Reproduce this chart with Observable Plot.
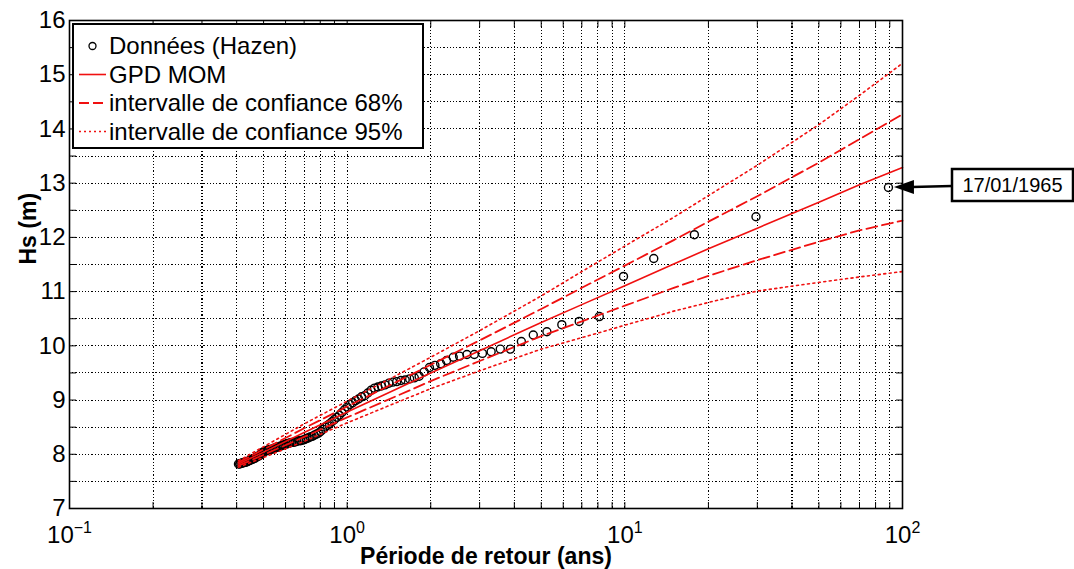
<!DOCTYPE html>
<html>
<head>
<meta charset="utf-8">
<script src="https://cdn.jsdelivr.net/npm/d3@7"></script>
<script src="https://cdn.jsdelivr.net/npm/@observablehq/plot@0.6"></script>
<style>
  html, body { margin: 0; padding: 0; background: #fff; }
  svg { display: block; }
</style>
</head>
<body>
<div id="chart"></div>
<script>
// ---- Observed data (Hazen plotting positions): return period (years), Hs (m)
const returnPeriod = [
  89.0, 29.67, 17.80, 12.71, 9.89, 8.09, 6.85, 5.93, 5.24, 4.68,
  4.24, 3.87, 3.56, 3.30, 3.07, 2.87, 2.70, 2.54, 2.41, 2.28,
  2.171, 2.070, 1.978, 1.894, 1.816, 1.745, 1.679, 1.618, 1.561, 1.508,
  1.459, 1.413, 1.369, 1.328, 1.290, 1.254, 1.219, 1.187, 1.156, 1.127,
  1.099, 1.072, 1.047, 1.023, 1.000, 0.978, 0.957, 0.937, 0.918, 0.899,
  0.881, 0.864, 0.848, 0.832, 0.817, 0.802, 0.788, 0.774, 0.761, 0.748,
  0.736, 0.724, 0.712, 0.701, 0.690, 0.679, 0.669, 0.659, 0.650, 0.640,
  0.631, 0.622, 0.614, 0.605, 0.597, 0.589, 0.582, 0.574, 0.567, 0.560,
  0.553, 0.546, 0.539, 0.533, 0.527, 0.520, 0.514, 0.509, 0.503, 0.497,
  0.492, 0.486, 0.481, 0.476, 0.471, 0.466, 0.461, 0.456, 0.452, 0.447,
  0.443, 0.438, 0.434, 0.430, 0.426, 0.422, 0.418, 0.414, 0.410, 0.406
];
const hsObserved = [
  12.92, 12.38, 12.05, 11.61, 11.28, 10.54, 10.45, 10.39, 10.26, 10.20,
  10.08, 9.94, 9.94, 9.89, 9.86, 9.84, 9.84, 9.81, 9.79, 9.73,
  9.67, 9.64, 9.60, 9.52, 9.44, 9.41, 9.39, 9.37, 9.36, 9.34,
  9.33, 9.31, 9.28, 9.26, 9.24, 9.22, 9.18, 9.13, 9.08, 9.06,
  9.02, 8.99, 8.95, 8.92, 8.87, 8.82, 8.77, 8.72, 8.68, 8.64,
  8.60, 8.56, 8.53, 8.50, 8.46, 8.42, 8.39, 8.37, 8.35, 8.33,
  8.32, 8.30, 8.29, 8.27, 8.26, 8.25, 8.25, 8.24, 8.23, 8.22,
  8.22, 8.21, 8.20, 8.19, 8.18, 8.17, 8.16, 8.15, 8.14, 8.13,
  8.12, 8.11, 8.10, 8.09, 8.09, 8.08, 8.07, 8.06, 8.05, 8.04,
  8.01, 7.99, 7.97, 7.96, 7.95, 7.93, 7.92, 7.91, 7.90, 7.89,
  7.88, 7.87, 7.86, 7.85, 7.85, 7.84, 7.84, 7.83, 7.82, 7.82
];

// ---- GPD MOM fit and confidence intervals
const fitPeriod = [0.406, 0.5, 0.7, 1, 1.5, 2, 3, 5, 7, 10, 15, 20, 30, 50, 70, 100];
const fitGPD    = [7.82, 8.04, 8.40, 8.78, 9.20, 9.50, 9.91, 10.43, 10.76, 11.11, 11.51, 11.79, 12.17, 12.65, 12.97, 13.29];
const lower68   = [7.79, 7.99, 8.32, 8.68, 9.07, 9.35, 9.72, 10.18, 10.45, 10.74, 11.07, 11.29, 11.58, 11.92, 12.13, 12.31];
const upper68   = [7.85, 8.09, 8.48, 8.88, 9.33, 9.65, 10.10, 10.68, 11.07, 11.48, 11.95, 12.29, 12.76, 13.38, 13.81, 14.27];
const lower95   = [7.76, 7.94, 8.24, 8.58, 8.95, 9.21, 9.54, 9.94, 10.15, 10.38, 10.64, 10.80, 11.01, 11.17, 11.27, 11.37];
const upper95   = [7.88, 8.14, 8.56, 8.98, 9.45, 9.79, 10.28, 10.92, 11.37, 11.84, 12.37, 12.77, 13.33, 14.08, 14.62, 15.21];

// ---- Axes / labels
const yTicks = [7, 8, 9, 10, 11, 12, 13, 14, 15, 16];
const yMinorTicks = [7, 7.5, 8, 8.5, 9, 9.5, 10, 10.5, 11, 11.5, 12, 12.5, 13, 13.5, 14, 14.5, 15, 15.5, 16];
const xDecades = [0.1, 1, 10, 100];
const xMultipliers = [1, 2, 3, 4, 5, 6, 7, 8, 9];
const xLabel = "Période de retour (ans)";
const yLabel = "Hs (m)";
const legendLabels = ["Données (Hazen)", "GPD MOM", "intervalle de confiance 68%", "intervalle de confiance 95%"];
const annotationText = "17/01/1965";

const xMinorTicks = xDecades.slice(0, -1).flatMap(d => xMultipliers.map(m => +(d * m).toPrecision(3))).concat([100]);
const xGrid = xMinorTicks.filter(v => v > 0.1 && v < 100);
const yGrid = yMinorTicks.filter(v => v > 7 && v < 16);

const points = returnPeriod.map((t, i) => ({t, hs: hsObserved[i]}));
const fit = fitPeriod.map((t, i) => ({t, gpd: fitGPD[i], lo68: lower68[i], hi68: upper68[i], lo95: lower95[i], hi95: upper95[i]}));

const RED = "#f01010";
const gridStyle = {stroke: "#000", strokeWidth: 1.1, strokeDasharray: "1.2,2", strokeOpacity: 1};
const emptyFmt = () => "";

const plot = Plot.plot({
  width: 1074,
  height: 569,
  marginLeft: 69,
  marginRight: 172,
  marginTop: 20,
  marginBottom: 61,
  style: {fontFamily: "'Liberation Sans', Arial, sans-serif", background: "#fff", color: "#000"},
  x: {type: "log", domain: [0.1, 100]},
  y: {domain: [7, 16]},
  marks: [
    Plot.ruleX(xGrid, gridStyle),
    Plot.ruleY(yGrid, gridStyle),
    Plot.dot(points, {x: "t", y: "hs", r: 4, stroke: "#000", strokeWidth: 1.4, fill: "none"}),
    Plot.line(fit, {x: "t", y: "lo95", stroke: RED, strokeWidth: 1.6, strokeDasharray: "2,3.5"}),
    Plot.line(fit, {x: "t", y: "hi95", stroke: RED, strokeWidth: 1.6, strokeDasharray: "2,3.5"}),
    Plot.line(fit, {x: "t", y: "lo68", stroke: RED, strokeWidth: 1.8, strokeDasharray: "11,5"}),
    Plot.line(fit, {x: "t", y: "hi68", stroke: RED, strokeWidth: 1.8, strokeDasharray: "11,5"}),
    Plot.line(fit, {x: "t", y: "gpd", stroke: RED, strokeWidth: 1.6}),
    Plot.axisX({anchor: "bottom", ticks: xMinorTicks, tickSize: -6, tickFormat: emptyFmt, label: null}),
    Plot.axisX({anchor: "top", ticks: xMinorTicks, tickSize: -6, tickFormat: emptyFmt, label: null}),
    Plot.axisY({anchor: "left", ticks: yMinorTicks, tickSize: -7, tickFormat: emptyFmt, label: null}),
    Plot.axisY({anchor: "right", ticks: yMinorTicks, tickSize: -7, tickFormat: emptyFmt, label: null}),
    Plot.axisX({anchor: "bottom", ticks: xDecades, tickSize: 0, tickPadding: 17, fontSize: 24,
      tickFormat: d => String(Math.round(Math.log10(d))), label: null}),
    Plot.axisY({anchor: "left", ticks: yTicks, tickSize: 0, tickPadding: 4, fontSize: 24,
      tickFormat: d => String(d), label: null}),
    Plot.frame({stroke: "#000", strokeWidth: 1.6}),
    Plot.text([xLabel], {frameAnchor: "bottom", dy: 55, text: d => d, fontSize: 23, fontWeight: "bold", lineAnchor: "bottom"}),
    Plot.text([yLabel], {frameAnchor: "left", dx: -41, rotate: -90, text: d => d, fontSize: 23, fontWeight: "bold"})
  ]
});
document.getElementById("chart").appendChild(plot);

const svg = d3.select(plot);
svg.style("overflow", "visible");

// crisp dotted grid like the original
svg.selectAll('g[aria-label="rule"] line').attr("shape-rendering", "crispEdges");

// superscript exponents on x tick labels
svg.selectAll('g[aria-label="x-axis tick label"] text').each(function () {
  const e = this.textContent;
  if (!e) return;
  this.textContent = "10";
  d3.select(this).append("tspan").attr("dy", "-0.62em").attr("font-size", "16px").text(e.replace("-", "\u2212"));
});

const xs = plot.scale("x"), ys = plot.scale("y");

// ---- Legend (inside the frame, upper-left)
const lg = svg.append("g").attr("font-family", "'Liberation Sans', Arial, sans-serif")
  .attr("font-size", 24).attr("text-anchor", "start");
const bx = xs.apply(0.1) + 4, by = ys.apply(16) + 4;
lg.append("rect").attr("x", bx).attr("y", by).attr("width", 350).attr("height", 124)
  .attr("fill", "#fff").attr("stroke", "#000").attr("stroke-width", 2);
const rowY = i => by + 22 + i * 28.5;
const symX0 = bx + 6, symX1 = bx + 33, textX = bx + 36;
lg.append("circle").attr("cx", (symX0 + symX1) / 2).attr("cy", rowY(0)).attr("r", 3.5)
  .attr("fill", "none").attr("stroke", "#000").attr("stroke-width", 1.3);
lg.append("line").attr("x1", symX0).attr("x2", symX1).attr("y1", rowY(1)).attr("y2", rowY(1))
  .attr("stroke", RED).attr("stroke-width", 1.6);
lg.append("line").attr("x1", symX0).attr("x2", symX1).attr("y1", rowY(2)).attr("y2", rowY(2))
  .attr("stroke", RED).attr("stroke-width", 2).attr("stroke-dasharray", "10,4");
lg.append("line").attr("x1", symX0).attr("x2", symX1).attr("y1", rowY(3)).attr("y2", rowY(3))
  .attr("stroke", RED).attr("stroke-width", 1.6).attr("stroke-dasharray", "2,3");
legendLabels.forEach((t, i) => {
  lg.append("text").attr("x", textX).attr("y", rowY(i)).attr("dy", "0.35em")
    .attr("text-anchor", "start").attr("fill", "#000").text(t);
});

// ---- Annotation of the largest event
const p = points[0];
const px = xs.apply(p.t), py = ys.apply(p.hs);
const frameRight = xs.apply(100);
const boxX = frameRight + 50, boxW = 121, boxH = 32;
const ag = svg.append("g");
ag.append("line").attr("x1", px + 24).attr("x2", boxX).attr("y1", py).attr("y2", py - 1)
  .attr("stroke", "#000").attr("stroke-width", 2.5);
ag.append("path").attr("d", `M${px + 6},${py} L${px + 26},${py - 7} L${px + 26},${py + 7} Z`).attr("fill", "#000");
ag.append("rect").attr("x", boxX).attr("y", py - 18).attr("width", boxW).attr("height", boxH)
  .attr("fill", "#fff").attr("stroke", "#000").attr("stroke-width", 2.5);
ag.append("text").attr("x", boxX + boxW / 2).attr("y", py - 2).attr("dy", "0.35em").attr("text-anchor", "middle")
  .attr("font-family", "'Liberation Sans', Arial, sans-serif").attr("font-size", 20).attr("fill", "#000").text(annotationText);
</script>
</body>
</html>
